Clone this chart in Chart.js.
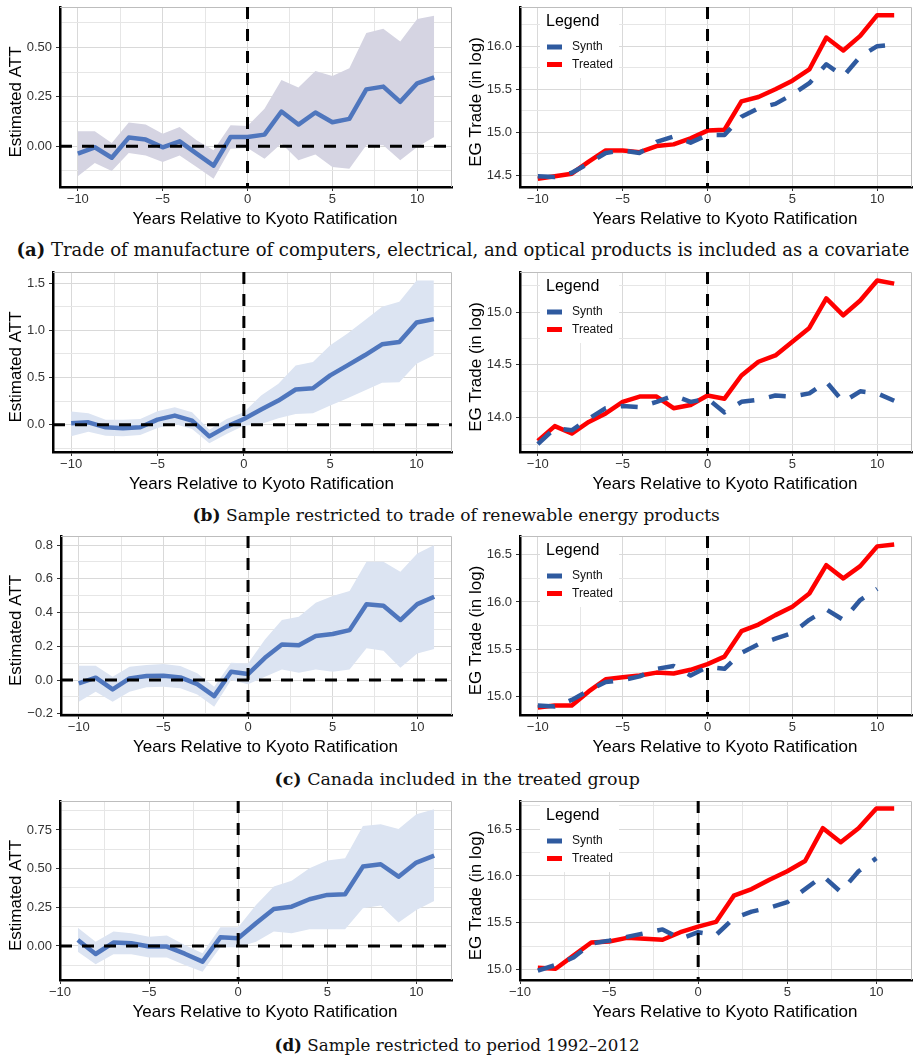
<!DOCTYPE html>
<html>
<head>
<meta charset="utf-8">
<title>Kyoto ratification: estimated ATT and EG trade</title>
<script src="https://cdn.jsdelivr.net/npm/chart.js@4.4.1/dist/chart.umd.min.js"></script>
<style>
  html, body { margin: 0; padding: 0; background: #fff; }
  #page { position: relative; width: 914px; height: 1056px; overflow: hidden; background: #fff; }
  #page canvas { position: absolute; }
  .cap { position: absolute; white-space: nowrap; font-family: "DejaVu Serif", serif; color: #111; line-height: 1; }
  .cap b { font-weight: bold; }
</style>
</head>
<body>
<div id="page"></div>
<script>
// ---------- event time (years relative to ratification) ----------
const yearsFull  = [-10, -9, -8, -7, -6, -5, -4, -3, -2, -1, 0, 1, 2, 3, 4, 5, 6, 7, 8, 9, 10, 11];
const yearsShort = [-9, -8, -7, -6, -5, -4, -3, -2, -1, 0, 1, 2, 3, 4, 5, 6, 7, 8, 9, 10, 11];

// ---------- (a) computers/electrical/optical trade as covariate ----------
const attA    = [-0.037, -0.005, -0.058, 0.044, 0.034, -0.005, 0.025, -0.037, -0.098, 0.047, 0.047, 0.059, 0.176, 0.110, 0.171, 0.122, 0.139, 0.288, 0.302, 0.225, 0.319, 0.349];
const attALo  = [-0.151, -0.085, -0.125, -0.034, -0.046, -0.080, -0.046, -0.105, -0.164, -0.012, -0.008, -0.063, 0.014, -0.071, -0.042, -0.105, -0.114, 0.005, 0.005, -0.071, -0.003, 0.047];
const attAHi  = [0.076, 0.076, 0.017, 0.120, 0.110, 0.064, 0.098, 0.030, -0.020, 0.107, 0.103, 0.190, 0.336, 0.298, 0.381, 0.356, 0.395, 0.573, 0.595, 0.530, 0.644, 0.661];
const treatedA = [14.46, 14.49, 14.52, 14.66, 14.79, 14.79, 14.77, 14.84, 14.86, 14.93, 15.02, 15.03, 15.36, 15.41, 15.50, 15.60, 15.73, 16.10, 15.95, 16.12, 16.36, 16.36];
const synthA   = [14.49, 14.48, 14.53, 14.64, 14.76, 14.79, 14.76, 14.89, 14.95, 14.88, 14.97, 14.97, 15.18, 15.28, 15.33, 15.44, 15.57, 15.79, 15.65, 15.88, 16.00, 16.02];

// ---------- (b) renewable energy products only ----------
const attB    = [0.014, 0.025, -0.028, -0.039, -0.028, 0.053, 0.096, 0.043, -0.124, -0.021, 0.060, 0.160, 0.256, 0.373, 0.387, 0.523, 0.629, 0.736, 0.853, 0.878, 1.084, 1.120];
const attBLo  = [-0.124, -0.075, -0.117, -0.124, -0.110, -0.036, 0.007, -0.046, -0.196, -0.100, -0.011, 0.007, 0.068, 0.114, 0.121, 0.203, 0.281, 0.363, 0.444, 0.451, 0.647, 0.736];
const attBHi  = [0.139, 0.121, 0.053, 0.053, 0.060, 0.142, 0.185, 0.132, -0.053, 0.060, 0.132, 0.309, 0.434, 0.629, 0.665, 0.843, 0.967, 1.109, 1.251, 1.305, 1.529, 1.529];
const treatedB = [13.78, 13.92, 13.85, 13.96, 14.04, 14.15, 14.20, 14.20, 14.09, 14.12, 14.21, 14.18, 14.40, 14.53, 14.59, 14.72, 14.85, 15.13, 14.97, 15.11, 15.30, 15.27];
const synthB   = [13.75, 13.90, 13.88, 13.99, 14.09, 14.11, 14.10, 14.15, 14.21, 14.15, 14.18, 14.05, 14.15, 14.17, 14.21, 14.20, 14.23, 14.34, 14.15, 14.25, 14.23, 14.16];

// ---------- (c) Canada in the treated group ----------
const attC    = [-0.020, 0.014, -0.055, 0.010, 0.024, 0.026, 0.016, -0.024, -0.095, 0.049, 0.036, 0.132, 0.211, 0.207, 0.261, 0.273, 0.296, 0.450, 0.441, 0.356, 0.450, 0.494];
const attCLo  = [-0.128, -0.069, -0.128, -0.069, -0.043, -0.040, -0.049, -0.085, -0.158, 0.000, -0.024, 0.020, 0.063, 0.043, 0.063, 0.049, 0.063, 0.188, 0.174, 0.073, 0.158, 0.184];
const attCHi  = [0.085, 0.085, 0.020, 0.079, 0.089, 0.095, 0.083, 0.040, -0.040, 0.103, 0.099, 0.241, 0.356, 0.375, 0.458, 0.498, 0.528, 0.702, 0.702, 0.642, 0.751, 0.800];
const treatedC = [14.88, 14.90, 14.90, 15.05, 15.18, 15.20, 15.22, 15.25, 15.24, 15.28, 15.34, 15.42, 15.69, 15.76, 15.86, 15.95, 16.09, 16.39, 16.25, 16.38, 16.59, 16.61];
const synthC   = [14.90, 14.89, 14.96, 15.06, 15.15, 15.17, 15.21, 15.29, 15.32, 15.22, 15.31, 15.29, 15.46, 15.55, 15.61, 15.67, 15.81, 15.92, 15.81, 16.02, 16.14, null];

// ---------- (d) period 1992-2012 ----------
const attD    = [0.039, -0.052, 0.022, 0.017, -0.004, -0.004, -0.050, -0.101, 0.056, 0.050, 0.147, 0.239, 0.254, 0.302, 0.330, 0.334, 0.513, 0.528, 0.448, 0.539, 0.584];
const attDLo  = [-0.037, -0.118, -0.054, -0.054, -0.075, -0.075, -0.123, -0.166, -0.009, -0.009, 0.028, 0.093, 0.082, 0.108, 0.108, 0.108, 0.244, 0.261, 0.151, 0.233, 0.291];
const attDHi  = [0.118, 0.028, 0.093, 0.082, 0.060, 0.067, 0.006, -0.047, 0.121, 0.121, 0.265, 0.384, 0.422, 0.502, 0.552, 0.567, 0.776, 0.787, 0.756, 0.851, 0.884];
const treatedD = [15.02, 15.01, 15.15, 15.29, 15.30, 15.34, 15.33, 15.32, 15.40, 15.46, 15.51, 15.79, 15.86, 15.96, 16.05, 16.16, 16.51, 16.36, 16.51, 16.72, 16.72];
const synthD   = [14.99, 15.05, 15.13, 15.28, 15.31, 15.35, 15.39, 15.43, 15.33, 15.40, 15.37, 15.55, 15.62, 15.66, 15.72, 15.86, 16.00, 15.83, 16.05, 16.19, null];

// ---------- tick labels ----------
const xTicks    = [-10, -5, 0, 5, 10];
const yTicksA   = [0, 0.25, 0.5];
const yTicksAR  = [14.5, 15.0, 15.5, 16.0];
const yTicksB   = [0, 0.5, 1.0, 1.5];
const yTicksBR  = [14.0, 14.5, 15.0];
const yTicksC   = [-0.2, 0, 0.2, 0.4, 0.6, 0.8];
const yTicksCR  = [15.0, 15.5, 16.0, 16.5];
const yTicksD   = [0, 0.25, 0.5, 0.75];
const yTicksDR  = [15.0, 15.5, 16.0, 16.5];

// ---------- text ----------
const xTitle = 'Years Relative to Kyoto Ratification';
const yTitleAtt = 'Estimated ATT';
const yTitleTrade = 'EG Trade (in log)';
const legendTitle = 'Legend';
const captions = [
  ['(a)', 'Trade of manufacture of computers, electrical, and optical products is included as a covariate'],
  ['(b)', 'Sample restricted to trade of renewable energy products'],
  ['(c)', 'Canada included in the treated group'],
  ['(d)', 'Sample restricted to period 1992\u20132012']
];

// ---------- styling ----------
const COL_ATT = '#4f76bd';
const COL_RIBBON_A = '#d5d4e2';
const COL_RIBBON = '#dce4f2';
const COL_SYNTH = '#2f5a9f';
const COL_TREATED = '#ff0000';
const SANS = '"Liberation Sans", Arial, sans-serif';

Chart.defaults.font.family = SANS;
Chart.defaults.color = '#333';

const ROW_H = 265, CANVAS_W = 457, CANVAS_H = 228;

function pts(xs, ys) { return xs.map((x, i) => ({ x: x, y: ys[i] })); }

function fmt(v, d) {
  const s = Math.abs(v).toFixed(d);
  return v < -1e-9 ? '\u2212' + s : s;
}

// major ticks plus half-step minor grid positions inside [min, max]
function tickList(majors, min, max) {
  const step = majors[1] - majors[0];
  const out = majors.filter(v => v >= min && v <= max).map(v => ({ value: v, minor: false }));
  for (let k = -1; k < majors.length; k++) {
    const v = +(majors[0] + step * (k + 0.5)).toFixed(6);
    if (v > min && v < max) out.push({ value: v, minor: true });
  }
  return out.sort((a, b) => a.value - b.value);
}

function axis(kind, lim, majors, decimals, size) {
  const list = tickList(majors, lim[0], lim[1]);
  return {
    type: 'linear',
    min: lim[0],
    max: lim[1],
    afterBuildTicks: s => { s.ticks = list.map(t => ({ value: t.value, minor: t.minor })); },
    afterFit: s => {
      if (kind === 'x') s.height = size; else s.width = size;
      s.paddingLeft = s.paddingRight = s.paddingTop = s.paddingBottom = 0;
    },
    grid: {
      color: c => (c.tick && c.tick.minor) ? '#e6e6e6' : '#d9d9d9',
      lineWidth: 1,
      drawTicks: true,
      tickLength: 4,
      tickWidth: 1,
      tickColor: c => (c.tick && c.tick.minor) ? 'rgba(0,0,0,0)' : '#333'
    },
    border: { color: '#000', width: 2.5 },
    ticks: {
      autoSkip: false,
      maxRotation: 0,
      minRotation: 0,
      padding: kind === 'x' ? 1 : 4,
      color: '#333',
      font: { size: 13 },
      callback: (v, i, ticks) => ticks[i].minor ? '' : fmt(v, decimals)
    }
  };
}

// frame, reference lines, axis titles and legend
const panelDecor = {
  id: 'panelDecor',
  beforeDatasetsDraw(chart) {
    const { ctx, chartArea: a } = chart;
    ctx.save();
    ctx.strokeStyle = '#bdbdbd';
    ctx.lineWidth = 1;
    ctx.beginPath();
    ctx.moveTo(a.left, a.top + 0.5);
    ctx.lineTo(a.right - 0.5, a.top + 0.5);
    ctx.lineTo(a.right - 0.5, a.bottom);
    ctx.stroke();
    ctx.restore();
  },
  afterDatasetsDraw(chart, args, o) {
    const { ctx, chartArea: a, scales } = chart;
    ctx.save();
    ctx.strokeStyle = '#000';
    ctx.lineWidth = 3;
    ctx.lineCap = 'butt';
    ctx.setLineDash([12, 10]);
    const x0 = scales.x.getPixelForValue(0);
    ctx.beginPath();
    ctx.moveTo(x0, a.top);
    ctx.lineTo(x0, a.bottom);
    ctx.stroke();
    if (o.zeroLine) {
      const y0 = scales.y.getPixelForValue(0);
      ctx.beginPath();
      ctx.moveTo(a.left, y0);
      ctx.lineTo(a.right, y0);
      ctx.stroke();
    }
    ctx.restore();
  },
  afterDraw(chart, args, o) {
    const { ctx, chartArea: a } = chart;
    ctx.save();
    ctx.fillStyle = '#000';
    ctx.textAlign = 'center';
    ctx.textBaseline = 'middle';
    ctx.font = '17px ' + SANS;
    ctx.fillText(o.xTitle, (a.left + a.right) / 2 + 9, o.xTitleY);
    ctx.save();
    ctx.translate(o.yTitleX, (a.top + a.bottom) / 2 + 5);
    ctx.rotate(-Math.PI / 2);
    ctx.fillText(o.yTitle, 0, 0);
    ctx.restore();

    if (o.legend) {
      const bx = a.left + 20, by = a.top + 1, bw = 79, bh = 70;
      ctx.fillStyle = '#fff';
      ctx.fillRect(bx, by, bw, bh);
      ctx.textAlign = 'left';
      ctx.fillStyle = '#000';
      ctx.font = '16px ' + SANS;
      ctx.fillText(legendTitle, bx + 6, a.top + 15);
      const items = chart.data.datasets.filter(d => d.label).slice()
        .sort((p, q) => p.label.localeCompare(q.label));
      ctx.font = '12px ' + SANS;
      items.forEach((d, i) => {
        const cy = a.top + 40 + i * 17.5;
        ctx.fillStyle = d.borderColor;
        ctx.fillRect(bx + 7, cy - 2.5, 15, 5);
        ctx.fillStyle = '#111';
        ctx.fillText(d.label, bx + 32, cy);
      });
    }
    ctx.restore();
  }
};
Chart.register(panelDecor);

function makeCanvas(left, top) {
  const c = document.createElement('canvas');
  c.width = CANVAS_W; c.height = CANVAS_H;
  c.style.left = left + 'px'; c.style.top = top + 'px';
  c.style.width = CANVAS_W + 'px'; c.style.height = CANVAS_H + 'px';
  document.getElementById('page').appendChild(c);
  return c;
}

function baseOptions(p, xAxis, yAxis, decor) {
  return {
    responsive: false,
    animation: false,
    devicePixelRatio: 1,
    events: [],
    layout: { padding: { left: 0, right: p.padRight, top: p.top, bottom: 0 } },
    elements: { line: { tension: 0 }, point: { radius: 0 } },
    plugins: { legend: { display: false }, tooltip: { enabled: false }, panelDecor: decor },
    scales: { x: xAxis, y: yAxis }
  };
}

// lower `order` is painted later, i.e. on top
function attPanel(canvas, p) {
  new Chart(canvas, {
    type: 'line',
    data: {
      datasets: [
        { data: pts(p.years, p.lo), borderWidth: 0, pointRadius: 0, fill: false, order: 2 },
        { data: pts(p.years, p.hi), borderWidth: 0, pointRadius: 0, fill: '-1', backgroundColor: p.ribbon, order: 1 },
        { data: pts(p.years, p.att), borderColor: COL_ATT, borderWidth: 4.5, pointRadius: 0, fill: false,
          borderJoinStyle: 'round', borderCapStyle: 'butt', order: 0 }
      ]
    },
    options: baseOptions(
      { padRight: 5, top: p.top },
      axis('x', p.xLim, xTicks, 0, CANVAS_H - p.bottom),
      axis('y', p.yLim, p.yTicks, p.dec, p.yWidth),
      { zeroLine: true, xTitle: xTitle, xTitleY: p.bottom + 32, yTitle: yTitleAtt, yTitleX: 16 }
    )
  });
}

function tradePanel(canvas, p) {
  new Chart(canvas, {
    type: 'line',
    data: {
      datasets: [
        { label: 'Treated', data: pts(p.years, p.treated), borderColor: COL_TREATED, borderWidth: 4.5,
          pointRadius: 0, fill: false, borderJoinStyle: 'round', borderCapStyle: 'butt', order: 1 },
        { label: 'Synth', data: pts(p.years, p.synth), borderColor: COL_SYNTH, borderWidth: 4.5,
          pointRadius: 0, fill: false, borderDash: [17, 15], borderJoinStyle: 'round', borderCapStyle: 'butt', order: 0 }
      ]
    },
    options: baseOptions(
      { padRight: 2, top: p.top },
      axis('x', p.xLim, xTicks, 0, CANVAS_H - p.bottom),
      axis('y', p.yLim, p.yTicks, 1, 63),
      { zeroLine: false, legend: true, xTitle: xTitle, xTitleY: p.bottom + 32, yTitle: yTitleTrade, yTitleX: 19 }
    )
  });
}

const X_FULL = [-11.05, 12.05], X_SHORT = [-10, 12];

const rows = [
  { years: yearsFull, xLim: X_FULL, top: 7, bottom: 187,
    left: { att: attA, lo: attALo, hi: attAHi, ribbon: COL_RIBBON_A, yLim: [-0.206, 0.705], yTicks: yTicksA, dec: 2, yWidth: 60 },
    right: { treated: treatedA, synth: synthA, yLim: [14.365, 16.455], yTicks: yTicksAR } },
  { years: yearsFull, xLim: X_FULL, top: 7, bottom: 187,
    left: { att: attB, lo: attBLo, hi: attBHi, ribbon: COL_RIBBON, yLim: [-0.29, 1.62], yTicks: yTicksB, dec: 1, yWidth: 53 },
    right: { treated: treatedB, synth: synthB, yLim: [13.675, 15.38], yTicks: yTicksBR } },
  { years: yearsFull, xLim: X_FULL, top: 6, bottom: 185,
    left: { att: attC, lo: attCLo, hi: attCHi, ribbon: COL_RIBBON, yLim: [-0.207, 0.854], yTicks: yTicksC, dec: 1, yWidth: 61 },
    right: { treated: treatedC, synth: synthC, yLim: [14.80, 16.70], yTicks: yTicksCR } },
  { years: yearsShort, xLim: X_SHORT, top: 6, bottom: 185,
    left: { att: attD, lo: attDLo, hi: attDHi, ribbon: COL_RIBBON, yLim: [-0.22, 0.937], yTicks: yTicksD, dec: 2, yWidth: 60 },
    right: { treated: treatedD, synth: synthD, yLim: [14.89, 16.80], yTicks: yTicksDR } }
];

// caption block: target width and centre line for each panel row
const captionWidths = [893, 528, 365, 365];
const captionCentres = [463, 456, 457, 457];

rows.forEach((r, i) => {
  const top = i * ROW_H;
  attPanel(makeCanvas(0, top), Object.assign({ years: r.years, xLim: r.xLim, top: r.top, bottom: r.bottom }, r.left));
  tradePanel(makeCanvas(CANVAS_W, top), Object.assign({ years: r.years, xLim: r.xLim, top: r.top, bottom: r.bottom }, r.right));

  const cap = document.createElement('div');
  cap.className = 'cap';
  const b = document.createElement('b');
  b.textContent = captions[i][0];
  cap.appendChild(b);
  cap.appendChild(document.createTextNode(' ' + captions[i][1]));
  cap.style.fontSize = '18px';
  document.getElementById('page').appendChild(cap);
  const fs = 18 * captionWidths[i] / cap.offsetWidth;
  cap.style.fontSize = fs.toFixed(2) + 'px';
  const w = cap.offsetWidth;
  cap.style.left = (captionCentres[i] - w / 2).toFixed(1) + 'px';
  cap.style.top = (top + 256 - 0.846 * fs).toFixed(1) + 'px';
});
</script>
</body>
</html>
